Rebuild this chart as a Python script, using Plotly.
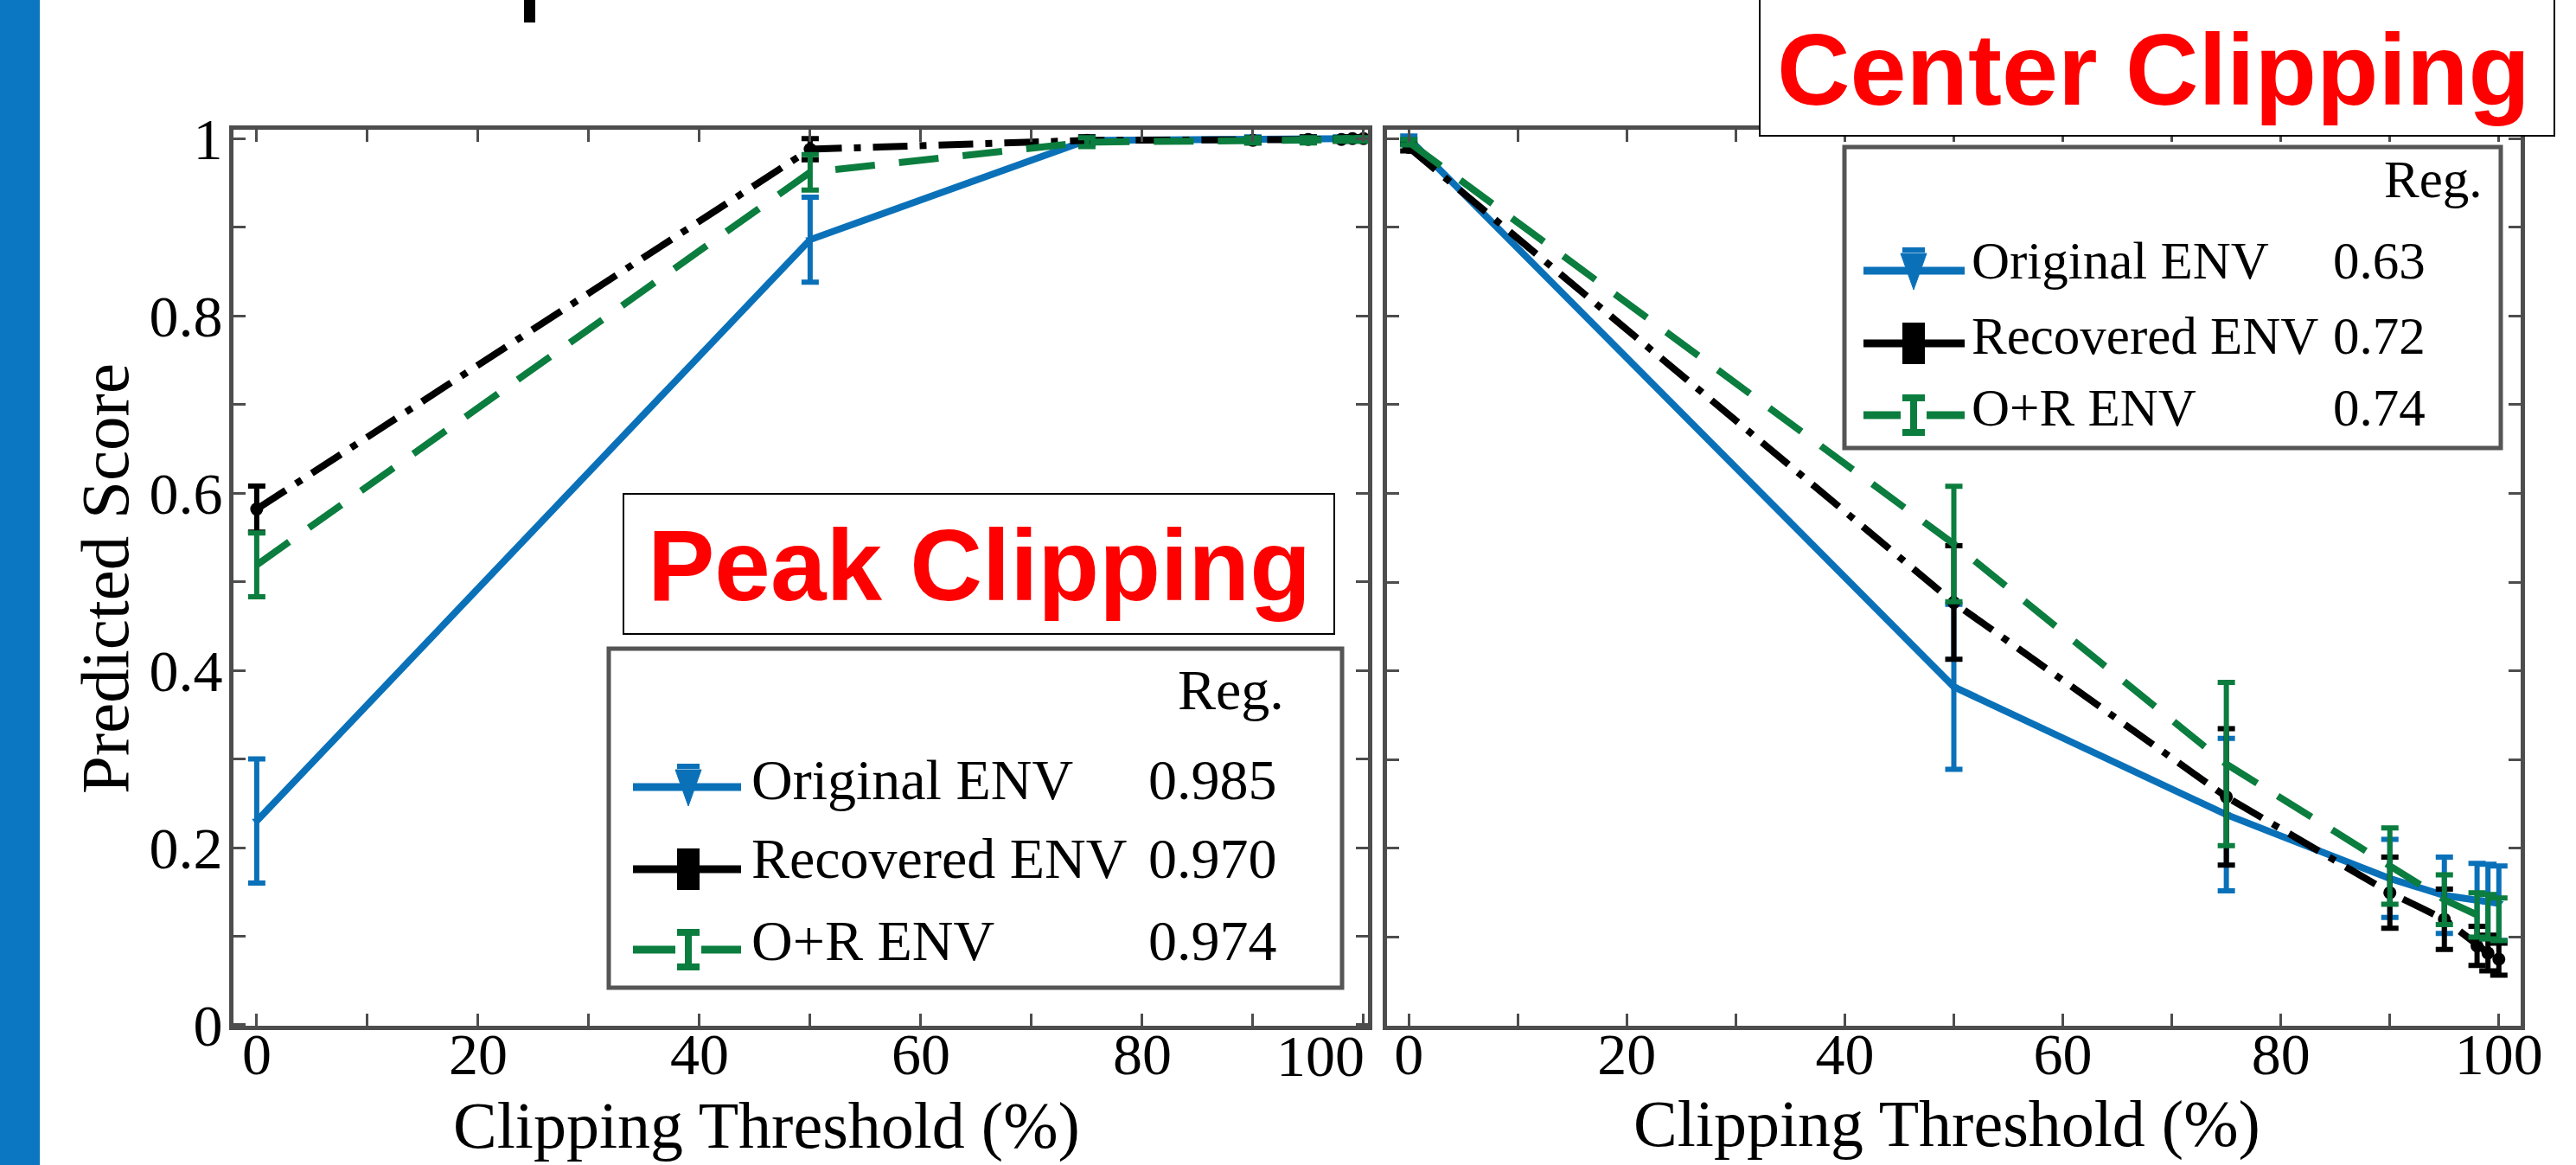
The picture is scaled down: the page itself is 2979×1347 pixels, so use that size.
import plotly.graph_objects as go

W, H = 2979, 1347

# ---------------- data ----------------
thresholds = [0, 50, 75, 90, 95, 98, 99, 100]

peak_original = [0.230, 0.886, 0.998, 0.999, 1.000, 1.000, 1.000, 1.000]
peak_original_err = [0.070, 0.048, 0.004, 0.003, 0.002, 0.002, 0.002, 0.002]
peak_recovered = [0.582, 0.988, 0.998, 0.998, 0.999, 0.999, 1.000, 1.000]
peak_recovered_err = [0.026, 0.012, 0.004, 0.003, 0.003, 0.002, 0.002, 0.002]
peak_or = [0.519, 0.962, 0.996, 0.998, 0.998, 0.999, 0.999, 0.999]
peak_or_err = [0.036, 0.020, 0.005, 0.003, 0.003, 0.002, 0.002, 0.002]

center_original = [1.000, 0.382, 0.238, 0.166, 0.147, 0.141, 0.140, 0.138]
center_original_err = [0.003, 0.093, 0.086, 0.044, 0.043, 0.042, 0.042, 0.042]
center_recovered = [0.990, 0.477, 0.258, 0.150, 0.120, 0.090, 0.082, 0.075]
center_recovered_err = [0.004, 0.064, 0.077, 0.040, 0.034, 0.022, 0.020, 0.018]
center_or = [0.996, 0.543, 0.295, 0.180, 0.142, 0.125, 0.123, 0.120]
center_or_err = [0.003, 0.065, 0.092, 0.043, 0.028, 0.025, 0.025, 0.024]

series_names = ["Original ENV", "Recovered ENV", "O+R ENV"]
reg_peak = ["0.985", "0.970", "0.974"]
reg_center = ["0.63", "0.72", "0.74"]

x_title = "Clipping Threshold (%)"
y_title = "Predicted Score"
x_tick_vals = [0, 10, 20, 30, 40, 50, 60, 70, 80, 90, 100]
x_tick_text = ["0", "", "20", "", "40", "", "60", "", "80", "", "100"]
y_tick_vals = [0, 0.1, 0.2, 0.3, 0.4, 0.5, 0.6, 0.7, 0.8, 0.9, 1.0]
y_tick_text = ["0", "", "0.2", "", "0.4", "", "0.6", "", "0.8", "", "1"]

# ---------------- styles ----------------
BLUE = "#0A71B9"
BLACK = "#000000"
GREEN = "#0B7D3E"
AXC = "#4d4d4d"
SERIF = "Liberation Serif"
SANS = "Liberation Sans"
TICK_SIZE = 68


def PX(x):
    return x / W


def PY(y):
    return 1 - y / H


styles = [
    dict(color=BLUE, dash="solid", symbol="triangle-down", size=10, mode="lines+markers"),
    dict(color=BLACK, dash="40px,14px,8px,14px", symbol="circle", size=15, mode="lines+markers"),
    dict(color=GREEN, dash="46px,28px", symbol="circle", size=1, mode="lines"),
]

fig = go.Figure()

panels = [
    ("x", "y", [(peak_original, peak_original_err), (peak_recovered, peak_recovered_err), (peak_or, peak_or_err)]),
    ("x2", "y2", [(center_original, center_original_err), (center_recovered, center_recovered_err), (center_or, center_or_err)]),
]
for xa, ya, data in panels:
    for (vals, errs), st, nm in zip(data, styles, series_names):
        fig.add_trace(go.Scatter(
            x=thresholds, y=vals, name=nm, xaxis=xa, yaxis=ya,
            mode=st["mode"],
            line=dict(color=st["color"], width=8, dash=st["dash"]),
            marker=dict(symbol=st["symbol"], size=st["size"], color=st["color"]),
            error_y=dict(type="data", array=errs, visible=True, color=st["color"], thickness=6, width=10),
            cliponaxis=False, showlegend=False,
        ))

axis_common = dict(
    showline=True, linecolor=AXC, linewidth=5, mirror="ticks",
    ticks="inside", ticklen=14, tickwidth=3, tickcolor=AXC,
    showgrid=False, zeroline=False, automargin=False,
    tickfont=dict(family=SERIF, size=TICK_SIZE, color="black"),
)

ydom = [PY(1186), PY(150)]
x_tick_text_left = list(x_tick_text)
x_tick_text_left[-1] = ""

fig.update_layout(
    width=W, height=H,
    margin=dict(l=0, r=0, t=0, b=0, autoexpand=False),
    paper_bgcolor="white", plot_bgcolor="white",
    xaxis=dict(domain=[PX(270), PX(1582)], range=[-2.1, 100.4], anchor="y",
               tickvals=x_tick_vals, ticktext=x_tick_text_left, ticklabelstandoff=-31,
               **axis_common),
    yaxis=dict(domain=ydom, range=[-0.001, 1.01], anchor="x",
               tickvals=y_tick_vals, ticktext=y_tick_text, ticklabelstandoff=-6,
               **axis_common),
    xaxis2=dict(domain=[PX(1604), PX(2915)], range=[-2, 102], anchor="y2",
                tickvals=x_tick_vals, ticktext=x_tick_text, ticklabelstandoff=-31,
                **axis_common),
    yaxis2=dict(domain=ydom, range=[0, 1.01], anchor="x2",
                tickvals=y_tick_vals, ticktext=[""] * len(y_tick_vals),
                **axis_common),
)

shapes = []
annotations = []

# axis titles
annotations.append(dict(xref="paper", yref="paper", x=PX(886), y=PY(1301), text=x_title,
                        showarrow=False, xanchor="center", yanchor="middle",
                        font=dict(family=SERIF, size=76, color="black")))
annotations.append(dict(xref="paper", yref="paper", x=PX(2251), y=PY(1299), text=x_title,
                        showarrow=False, xanchor="center", yanchor="middle",
                        font=dict(family=SERIF, size=76, color="black")))
annotations.append(dict(xref="paper", yref="paper", x=PX(121), y=PY(669), text=y_title, textangle=-90,
                        showarrow=False, xanchor="center", yanchor="middle",
                        font=dict(family=SERIF, size=79, color="black")))

# left slide stripe and cut-off title fragment
shapes.append(dict(type="rect", xref="paper", yref="paper", x0=0, x1=PX(46), y0=0, y1=1,
                   fillcolor="#0B77C2", line=dict(width=0), layer="below"))
shapes.append(dict(type="rect", xref="paper", yref="paper", x0=PX(606), x1=PX(619), y0=PY(26), y1=1.01,
                   fillcolor="black", line=dict(width=0), layer="above"))

# left "100" tick label nudged left (as in the reference)
annotations.append(dict(xref="x", yref="paper", x=100, y=PY(1221), xshift=-50, text="100",
                        showarrow=False, xanchor="center", yanchor="middle",
                        font=dict(family=SERIF, size=TICK_SIZE, color="black")))

# title boxes
shapes.append(dict(type="rect", xref="paper", yref="paper", x0=PX(721), x1=PX(1543), y0=PY(733), y1=PY(571),
                   fillcolor="white", line=dict(color="black", width=2), layer="above"))
annotations.append(dict(xref="paper", yref="paper", x=PX(1132), y=PY(654), text="<b>Peak Clipping</b>",
                        showarrow=False, xanchor="center", yanchor="middle",
                        font=dict(family=SANS, size=116, color="#FF0000")))
shapes.append(dict(type="rect", xref="paper", yref="paper", x0=PX(2035), x1=PX(2954), y0=PY(157), y1=PY(-5),
                   fillcolor="white", line=dict(color="black", width=2), layer="above"))
annotations.append(dict(xref="paper", yref="paper", x=PX(2490), y=PY(80), text="<b>Center Clipping</b>",
                        showarrow=False, xanchor="center", yanchor="middle",
                        font=dict(family=SANS, size=117, color="#FF0000")))


def legend(box, x0, x1, xc, rows, text_x, val_x, reg_xy, text_ys, vals, fsize, lw):
    bx0, by0, bx1, by1 = box
    shapes.append(dict(type="rect", xref="paper", yref="paper", x0=PX(bx0), x1=PX(bx1), y0=PY(by1), y1=PY(by0),
                       fillcolor="white", line=dict(color="#555555", width=5), layer="above"))
    annotations.append(dict(xref="paper", yref="paper", x=PX(reg_xy[0]), y=PY(reg_xy[1]), text="Reg.",
                            showarrow=False, xanchor="left", yanchor="middle",
                            font=dict(family=SERIF, size=fsize, color="black")))
    cols = [BLUE, BLACK, GREEN]
    for i, (ry, ty) in enumerate(zip(rows, text_ys)):
        c = cols[i]
        hw = 13
        if i == 2:
            shapes.append(dict(type="line", xref="paper", yref="paper", x0=PX(x0), x1=PX(xc - hw - 2), y0=PY(ry), y1=PY(ry),
                               line=dict(color=c, width=lw), layer="above"))
            shapes.append(dict(type="line", xref="paper", yref="paper", x0=PX(xc + hw + 2), x1=PX(x1), y0=PY(ry), y1=PY(ry),
                               line=dict(color=c, width=lw), layer="above"))
            shapes.append(dict(type="line", xref="paper", yref="paper", x0=PX(xc), x1=PX(xc), y0=PY(ry - 20), y1=PY(ry + 20),
                               line=dict(color=c, width=8), layer="above"))
            for cy in (ry - 20, ry + 20):
                shapes.append(dict(type="line", xref="paper", yref="paper", x0=PX(xc - hw), x1=PX(xc + hw), y0=PY(cy), y1=PY(cy),
                                   line=dict(color=c, width=8), layer="above"))
        else:
            shapes.append(dict(type="line", xref="paper", yref="paper", x0=PX(x0), x1=PX(x1), y0=PY(ry), y1=PY(ry),
                               line=dict(color=c, width=lw), layer="above"))
            if i == 0:
                shapes.append(dict(type="line", xref="paper", yref="paper", x0=PX(xc - hw), x1=PX(xc + hw),
                                   y0=PY(ry - 24), y1=PY(ry - 24), line=dict(color=c, width=6), layer="above"))
                path = "M {} {} L {} {} L {} {} Z".format(PX(xc - 15), PY(ry - 20), PX(xc + 15), PY(ry - 20), PX(xc), PY(ry + 22))
                shapes.append(dict(type="path", xref="paper", yref="paper", path=path,
                                   fillcolor=c, line=dict(color=c, width=1), layer="above"))
            else:
                shapes.append(dict(type="rect", xref="paper", yref="paper", x0=PX(xc - hw), x1=PX(xc + hw),
                                   y0=PY(ry + 24), y1=PY(ry - 24), fillcolor=c, line=dict(width=0), layer="above"))
        annotations.append(dict(xref="paper", yref="paper", x=PX(text_x), y=PY(ty), text=series_names[i],
                                showarrow=False, xanchor="left", yanchor="middle",
                                font=dict(family=SERIF, size=fsize, color="black")))
        annotations.append(dict(xref="paper", yref="paper", x=PX(val_x), y=PY(ty), text=vals[i],
                                showarrow=False, xanchor="left", yanchor="middle",
                                font=dict(family=SERIF, size=fsize, color="black")))


legend((704, 750, 1552, 1142), 732, 857, 796, [910, 1005, 1098], 867, 1326, (1360, 797),
       [901, 992, 1087], reg_peak, 66, 9)
legend((2133, 170, 2892, 518), 2155, 2272, 2213, [313, 397, 480], 2278, 2696, (2755, 208),
       [302, 388, 472], reg_center, 61, 9)

fig.update_layout(shapes=shapes, annotations=annotations)
fig.write_html("out.html")
